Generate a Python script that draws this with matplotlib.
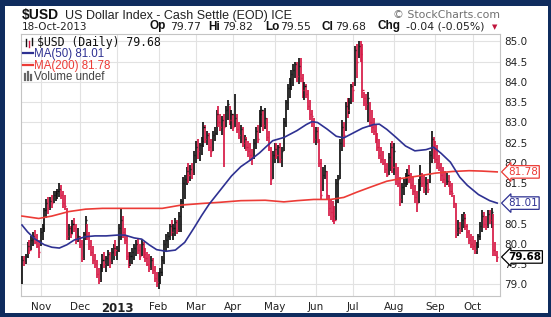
import numpy as np
import pandas as pd
import matplotlib
matplotlib.use("Agg")
import matplotlib.pyplot as plt
from matplotlib.patches import Rectangle
from matplotlib.lines import Line2D
from matplotlib.transforms import blended_transform_factory

# daily bars, 18-Oct-2012 .. 18-Oct-2013
holidays = ['2012-11-22', '2012-12-25', '2013-01-01', '2013-03-29',
            '2013-05-27', '2013-07-04', '2013-09-02']
dates = pd.bdate_range('2012-10-18', '2013-10-18').drop(pd.to_datetime(holidays))

closes = [
    79.6, 79.55, 79.7, 79.95, 79.85, 80.1, 80.2, 80.05, 79.95, 79.8,
    80.3, 80.4, 80.85, 81.0, 80.9, 81.05, 81.0, 81.2, 81.25, 81.3,
    81.35, 81.2, 81.0, 80.95, 80.2, 80.4, 80.25, 80.5, 80.4, 80.1,
    80.2, 80.0, 79.65, 80.25, 80.6, 80.2, 79.95, 79.8, 79.6, 79.5,
    79.25, 79.1, 79.4, 79.6, 79.5, 79.65, 79.75, 79.55, 79.8, 79.9,
    79.85, 79.85, 80.4, 80.6, 80.3, 80.1, 79.7, 79.5, 79.7, 79.8,
    79.9, 80.0, 79.85, 79.7, 80.0, 79.75, 79.65, 79.5, 79.4, 79.6,
    79.35, 79.15, 79.05, 79.2, 79.3, 79.6, 80.0, 80.1, 80.2, 80.45,
    80.3, 80.4, 80.55, 80.35, 80.7, 81.05, 81.5, 81.6, 81.8, 81.7,
    81.85, 81.75, 82.2, 82.4, 82.3, 82.45, 82.55, 82.9, 82.6, 82.7,
    82.4, 82.3, 82.7, 82.75, 83.2, 83.0, 82.9, 83.05, 82.9, 83.3,
    83.45, 83.05, 83.2, 82.9, 83.1, 82.85, 82.7, 82.85, 82.5, 82.6,
    82.4, 82.3, 82.2, 82.15, 82.5, 82.8, 82.6, 83.2, 83.3, 82.95,
    83.1, 82.65, 82.5, 81.6, 82.2, 82.35, 82.2, 82.4, 82.1, 82.3,
    83.0, 83.5, 83.85, 83.9, 84.2, 84.3, 84.45, 84.15, 84.4, 84.1,
    83.8, 83.9, 83.7, 83.4, 83.2, 83.15, 82.6, 82.8, 82.55, 82.0,
    81.2, 81.7, 81.8, 81.2, 80.9, 80.8, 80.7, 80.6, 81.5, 81.6,
    82.5, 82.9, 82.7, 83.4, 83.3, 83.5, 83.9, 83.8, 84.8, 84.5,
    84.9, 84.7, 83.8, 83.6, 83.45, 83.6, 83.0, 82.9, 82.8, 82.6,
    82.4, 82.2, 82.1, 82.0, 81.85, 81.7, 82.15, 82.4, 81.9, 82.3,
    81.6, 81.5, 81.1, 81.4, 81.5, 81.65, 81.7, 81.6, 81.45, 81.3,
    81.15, 81.0, 81.5, 81.7, 81.5, 81.4, 81.5, 81.35, 82.2, 82.6,
    82.3, 82.1, 82.0, 81.9, 81.7, 81.6, 81.5, 81.55, 81.45, 81.3,
    81.25, 81.0, 80.3, 80.4, 80.35, 80.6, 80.65, 80.45, 80.3, 80.1,
    80.0, 79.95, 79.85, 79.95, 80.2, 80.45, 80.7, 80.5, 80.45, 80.75,
    80.6, 80.8, 79.85, 79.72, 79.68]

highs = [
    79.7, 79.7, 79.75, 80.05, 80.1, 80.2, 80.3, 80.35, 80.25, 80.1,
    80.4, 80.5, 80.9, 81.1, 81.15, 81.15, 81.2, 81.3, 81.3, 81.35,
    81.5, 81.45, 81.3, 81.2, 80.9, 80.5, 80.45, 80.6, 80.65, 80.5,
    80.4, 80.2, 80.1, 80.3, 80.7, 80.5, 80.3, 80.1, 79.95, 79.75,
    79.6, 79.4, 79.5, 79.75, 79.8, 79.7, 79.85, 79.8, 79.9, 80.0,
    80.1, 79.95, 80.5, 80.9, 80.7, 80.4, 80.2, 79.8, 79.8, 79.9,
    80.0, 80.1, 80.15, 80.0, 80.1, 80.05, 79.9, 79.8, 79.75, 79.7,
    79.65, 79.45, 79.3, 79.3, 79.4, 79.7, 80.1, 80.25, 80.3, 80.5,
    80.6, 80.5, 80.65, 80.6, 80.8, 81.1, 81.65, 81.7, 81.9, 82.0,
    81.95, 82.0, 82.3, 82.55, 82.6, 82.5, 82.65, 83.0, 82.95, 82.8,
    82.75, 82.6, 82.8, 82.9, 83.3, 83.4, 83.2, 83.15, 83.2, 83.4,
    83.55, 83.4, 83.3, 83.2, 83.7, 83.2, 83.0, 82.95, 82.9, 82.7,
    82.65, 82.55, 82.5, 82.35, 82.6, 82.9, 82.95, 83.3, 83.4, 83.3,
    83.35, 83.1, 82.8, 82.4, 82.3, 82.5, 82.5, 82.45, 82.5, 82.4,
    83.1, 83.55, 83.95, 84.1, 84.3, 84.45, 84.5, 84.5, 84.6, 84.6,
    84.2, 84.0, 83.95, 83.8, 83.55, 83.3, 83.1, 82.9, 82.9, 82.6,
    82.1, 81.9, 81.95, 81.8, 81.2, 81.1, 81.05, 80.95, 81.6, 81.7,
    82.6, 83.05, 83.0, 83.5, 83.6, 83.6, 83.95, 84.0, 84.9, 84.95,
    85.0, 85.0, 84.95, 83.75, 83.7, 83.75, 83.5, 83.3, 83.1, 82.95,
    82.75, 82.6, 82.4, 82.3, 82.1, 82.0, 82.25, 82.5, 82.55, 82.5,
    82.0, 81.9, 81.65, 81.5, 81.6, 81.75, 81.85, 81.95, 81.75, 81.65,
    81.45, 81.3, 81.6, 81.95, 81.75, 81.7, 81.65, 81.6, 82.3, 82.8,
    82.65, 82.55, 82.45, 82.2, 82.0, 81.9, 81.8, 81.75, 81.7, 81.55,
    81.5, 81.2, 81.0, 80.6, 80.55, 80.75, 80.8, 80.75, 80.5, 80.35,
    80.25, 80.2, 80.1, 80.05, 80.25, 80.55, 80.85, 80.8, 80.7, 80.85,
    80.85, 80.9, 80.75, 80.05, 79.82]

lows = [
    79.0, 79.45, 79.5, 79.65, 79.75, 79.85, 79.95, 80.0, 79.9, 79.65,
    79.95, 80.1, 80.3, 80.65, 80.75, 80.85, 80.9, 81.0, 81.05, 81.1,
    81.15, 81.1, 80.9, 80.85, 80.1, 80.1, 80.15, 80.25, 80.3, 80.0,
    80.05, 79.9, 79.55, 79.6, 80.1, 80.1, 79.85, 79.7, 79.5, 79.4,
    79.15, 79.0, 79.05, 79.3, 79.4, 79.3, 79.45, 79.4, 79.5, 79.6,
    79.7, 79.6, 79.8, 80.1, 80.15, 80.0, 79.6, 79.4, 79.45, 79.5,
    79.6, 79.7, 79.75, 79.6, 79.7, 79.65, 79.55, 79.45, 79.3, 79.35,
    79.25, 79.05, 78.95, 78.9, 79.0, 79.2, 79.5, 79.8, 79.9, 80.1,
    80.2, 80.1, 80.2, 80.25, 80.3, 80.3, 80.9, 81.1, 81.45, 81.5,
    81.55, 81.6, 81.7, 82.0, 82.1, 82.05, 82.2, 82.4, 82.5, 82.45,
    82.3, 82.15, 82.3, 82.55, 82.7, 82.9, 82.8, 82.7, 81.9, 82.9,
    83.05, 82.95, 82.85, 82.8, 82.9, 82.75, 82.6, 82.5, 82.4, 82.35,
    82.3, 82.15, 82.05, 81.95, 82.1, 82.35, 82.5, 82.75, 82.9, 82.8,
    82.85, 82.55, 82.3, 81.45, 81.6, 82.0, 82.1, 82.0, 82.0, 81.9,
    82.3, 82.9, 83.3, 83.6, 83.8, 83.9, 84.1, 84.0, 83.95, 84.0,
    83.6, 83.55, 83.6, 83.3, 83.05, 82.9, 82.5, 82.45, 82.5, 81.9,
    81.1, 81.3, 81.6, 81.1, 80.7, 80.6, 80.55, 80.5, 80.6, 81.0,
    81.6, 82.3, 82.4, 82.8, 83.1, 83.2, 83.45, 83.5, 83.9, 84.1,
    84.6, 84.5, 83.6, 83.4, 83.3, 83.0, 82.9, 82.75, 82.7, 82.5,
    82.3, 82.1, 82.0, 81.95, 81.75, 81.65, 81.7, 81.8, 81.75, 81.7,
    81.45, 81.4, 80.95, 81.0, 81.2, 81.4, 81.45, 81.5, 81.35, 81.2,
    81.0, 80.8, 81.0, 81.3, 81.4, 81.25, 81.2, 81.25, 81.5, 82.0,
    82.1, 82.0, 81.85, 81.8, 81.55, 81.5, 81.4, 81.45, 81.4, 81.2,
    81.15, 80.9, 80.15, 80.2, 80.25, 80.3, 80.4, 80.35, 80.15, 80.0,
    79.9, 79.85, 79.75, 79.75, 79.9, 80.1, 80.3, 80.4, 80.35, 80.4,
    80.5, 80.4, 79.7, 79.7, 79.55]

# moving averages read at sample bars (bar index, value)
ma50_idx = [0, 3, 7, 12, 16, 20, 24, 28, 34, 39, 45, 51, 55, 60, 64, 68, 72, 77,
            82, 87, 92, 96, 100, 106, 112, 117, 122, 127, 130, 134, 140, 147,
            152, 155, 158, 163, 168, 172, 177, 182, 188, 191, 195, 200, 205,
            210, 216, 220, 224, 229, 234, 238, 244, 250, 254]
ma50_val = [80.47, 80.3, 80.12, 79.98, 79.92, 79.9, 79.98, 80.1, 80.18, 80.2,
            80.2, 80.22, 80.22, 80.15, 80.12, 79.98, 79.86, 79.82, 79.85, 80.04,
            80.4, 80.7, 80.98, 81.33, 81.68, 81.91, 82.07, 82.25, 82.38, 82.55,
            82.63, 82.8, 82.95, 83.02, 83.0, 82.84, 82.66, 82.62, 82.74, 82.86,
            82.95, 82.96, 82.83, 82.63, 82.42, 82.3, 82.33, 82.39, 82.24, 82.02,
            81.65, 81.45, 81.22, 81.07, 81.01]
ma200_idx = [0, 9, 16, 25, 34, 43, 55, 65, 75, 85, 96, 106, 117, 130, 140, 147,
             156, 165, 172, 179, 186, 195, 203, 212, 221, 230, 239, 246, 254]
ma200_val = [80.69, 80.63, 80.69, 80.8, 80.86, 80.88, 80.88, 80.88, 80.88, 80.96,
             81.0, 81.03, 81.07, 81.08, 81.04, 81.07, 81.1, 81.1, 81.15, 81.28,
             81.4, 81.55, 81.62, 81.68, 81.75, 81.79, 81.81, 81.8, 81.78]

W, H = 551, 317
NAVY = '#0f2c5e'
BAR_UP = '#111111'
BAR_DN = '#d61a46'
MA50_C = '#2e3192'
MA200_C = '#ec3b36'


def fx(px):
    return px / W


def fy(py):
    return 1 - py / H


fig = plt.figure(figsize=(W / 100, H / 100), dpi=100, facecolor=NAVY)
fig.patches.append(Rectangle((fx(5), fy(313)), (548 - 5) / W, (313 - 6) / H,
                             transform=fig.transFigure, fc='white', ec='none',
                             zorder=-10))

ax = fig.add_axes([fx(21), fy(296), (500 - 21) / W, (296 - 34) / H])
n = len(closes)
x = np.arange(n)
bar_colors = [BAR_UP if i == 0 or closes[i] >= closes[i - 1] else BAR_DN for i in range(n)]
ax.vlines(x, lows, highs, colors=bar_colors, lw=1.25, zorder=3)
ax.hlines(closes, x, x + 0.6, colors=bar_colors, lw=1.0, zorder=3)

ax.plot(ma200_idx, ma200_val, color=MA200_C, lw=1.2, zorder=4)
ax.plot(ma50_idx, ma50_val, color=MA50_C, lw=1.2, zorder=4)

ax.set_xlim(-0.5, n + 0.5)
ax.set_ylim(78.716, 85.185)

# axes styling
ax.set_facecolor('white')
for sp in ax.spines.values():
    sp.set_color('#c4c4c4')
    sp.set_linewidth(0.8)
yt = np.arange(79.0, 85.01, 0.5)
ax.set_yticks(yt)
ax.set_yticklabels([f'{v:.1f}' for v in yt])
ax.yaxis.tick_right()
ax.tick_params(axis='y', length=0, pad=3, labelsize=7.5, labelcolor='#222222')
# 81.0 is fully hidden behind the MA(50) tag in the source
for lbl in ax.get_yticklabels():
    if lbl.get_text() == '81.0':
        lbl.set_visible(False)

month_starts = [i for i in range(1, n) if dates[i].month != dates[i - 1].month]
month_labels = ['2013' if dates[i].month == 1 else dates[i].strftime('%b') for i in month_starts]
ax.set_xticks(month_starts)
ax.set_xticklabels(month_labels)
ax.tick_params(axis='x', length=0, pad=4, labelsize=7.5, labelcolor='#222222')
for lbl in ax.get_xticklabels():
    if lbl.get_text() == '2013':
        lbl.set_fontweight('bold')
        lbl.set_fontsize(8.5)
ax.grid(True, color='#e2e2e2', lw=0.8)
ax.set_axisbelow(True)

# value tags on the right (they sit over the tick labels, as in the source)
tr = blended_transform_factory(ax.transAxes, ax.transData)
tags = [(81.78, '81.78', MA200_C, 'normal'), (81.01, '81.01', MA50_C, 'normal'),
        (79.68, '79.68', '#000000', 'bold')]
for val, s, col, wt in tags:
    ax.text(1.017, val, s, transform=tr, va='center', ha='left', fontsize=7.5,
            color=col, fontweight=wt, zorder=6, clip_on=False,
            bbox=dict(boxstyle='larrow,pad=0.12', fc='white', ec=col, lw=0.9))

# header
fig.text(fx(22), fy(18.5), '$USD', fontsize=10, fontweight='bold',
         family='Liberation Sans', color='#111111', va='baseline')
fig.text(fx(65), fy(18.5), 'US Dollar Index - Cash Settle (EOD) ICE', fontsize=9,
         family='Liberation Sans', color='#222222', va='baseline')
fig.text(fx(393), fy(18), '\u00a9 StockCharts.com', fontsize=7.8,
         color='#707070', va='baseline')
fig.text(fx(22), fy(29.5), '18-Oct-2013', fontsize=7.5, color='#222222', va='baseline')

quote = [(149, 'Op', True), (170, '79.77', False), (208, 'Hi', True), (222, '79.82', False),
         (265, 'Lo', True), (280, '79.55', False), (321, 'Cl', True), (335, '79.68', False),
         (378, 'Chg', True), (406, '-0.04 (-0.05%)', False)]
for px, s, bold in quote:
    if bold:
        fig.text(fx(px), fy(29.5), s, fontsize=8.5, fontweight='bold',
                 family='Liberation Sans', color='#111111', va='baseline')
    else:
        fig.text(fx(px), fy(29.5), s, fontsize=7.8, color='#222222', va='baseline')
fig.text(fx(492), fy(29.5), '\u25bc', fontsize=5, color='#c0143c', va='baseline')

# in-chart legend
fig.add_artist(Line2D([fx(26), fx(26)], [fy(39), fy(46)], color='#111111', lw=1))
fig.add_artist(Line2D([fx(29), fx(29)], [fy(41), fy(47)], color=BAR_DN, lw=1))
fig.add_artist(Line2D([fx(32), fx(32)], [fy(38), fy(45)], color='#111111', lw=1))
fig.text(fx(37), fy(46), '$USD (Daily) 79.68', fontsize=8.3, family='DejaVu Sans Mono',
         color='#111111', va='baseline')
fig.add_artist(Line2D([fx(23), fx(33)], [fy(53), fy(53)], color=MA50_C, lw=1.6))
fig.text(fx(34), fy(57), 'MA(50) 81.01', fontsize=8.3, family='Liberation Sans',
         color=MA50_C, va='baseline')
fig.add_artist(Line2D([fx(23), fx(33)], [fy(64.5), fy(64.5)], color=MA200_C, lw=1.6))
fig.text(fx(34), fy(68.5), 'MA(200) 81.78', fontsize=8.3, family='Liberation Sans',
         color=MA200_C, va='baseline')
for bx, top in [(25, 74), (28, 72), (31, 75)]:
    fig.add_artist(Line2D([fx(bx), fx(bx)], [fy(80), fy(top)], color='#666666', lw=1.6))
fig.text(fx(34), fy(80), 'Volume undef', fontsize=8.3, family='Liberation Sans',
         color='#444444', va='baseline')

fig.savefig('out.png', dpi=100, facecolor=NAVY)
